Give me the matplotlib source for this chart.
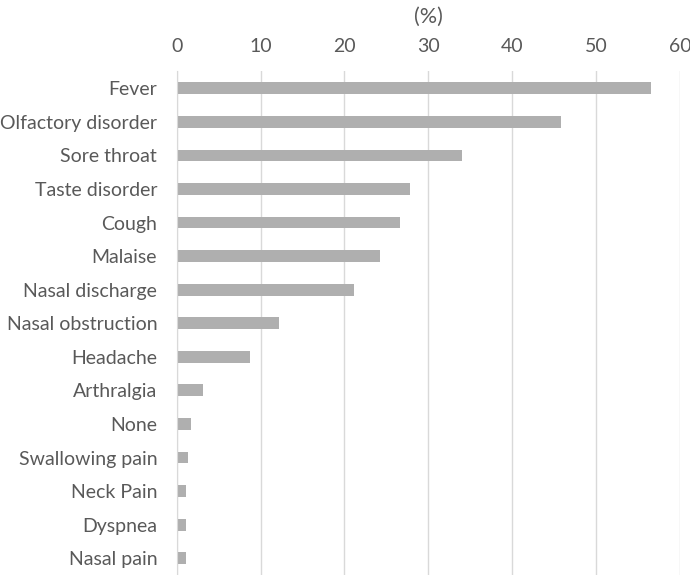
import matplotlib
matplotlib.use('Agg')
import matplotlib.pyplot as plt

symptoms = ['Fever', 'Olfactory disorder', 'Sore throat', 'Taste disorder', 'Cough',
            'Malaise', 'Nasal discharge', 'Nasal obstruction', 'Headache', 'Arthralgia',
            'None', 'Swallowing pain', 'Neck Pain', 'Dyspnea', 'Nasal pain']
percent = [56.6, 45.8, 34.0, 27.8, 26.6, 24.3, 21.1, 12.2, 8.8, 3.1, 1.7, 1.4, 1.1, 1.1, 1.1]
xticks = [0, 10, 20, 30, 40, 50, 60]

txt = '#595959'
plt.rcParams['font.family'] = ['Lato', 'DejaVu Sans']

fig = plt.figure(figsize=(6.9, 5.75), dpi=100)
ax = fig.add_axes([0.256, 0.0, 0.7295, 0.8757])

ypos = list(range(len(symptoms)))
ax.barh(ypos, percent, height=0.35, color='#afafaf', zorder=2)
ax.set_ylim(len(symptoms) - 0.5, -0.5)
ax.set_xlim(0, 60)

ax.set_xticks(xticks)
ax.xaxis.tick_top()
ax.xaxis.set_label_position('top')
ax.tick_params(axis='x', length=0, pad=12, labelsize=14, labelcolor=txt)
ax.set_xlabel('(%)', fontsize=15.5, color=txt, labelpad=11)

ax.set_yticks(ypos)
ax.set_yticklabels(symptoms)
ax.tick_params(axis='y', length=0, pad=14, labelsize=14, labelcolor=txt)

ax.grid(axis='x', color='#d9d9d9', linewidth=1, zorder=0)
for s in ['top', 'right', 'bottom']:
    ax.spines[s].set_visible(False)
ax.spines['left'].set_color('#d9d9d9')

fig.savefig('out.png', dpi=100)
